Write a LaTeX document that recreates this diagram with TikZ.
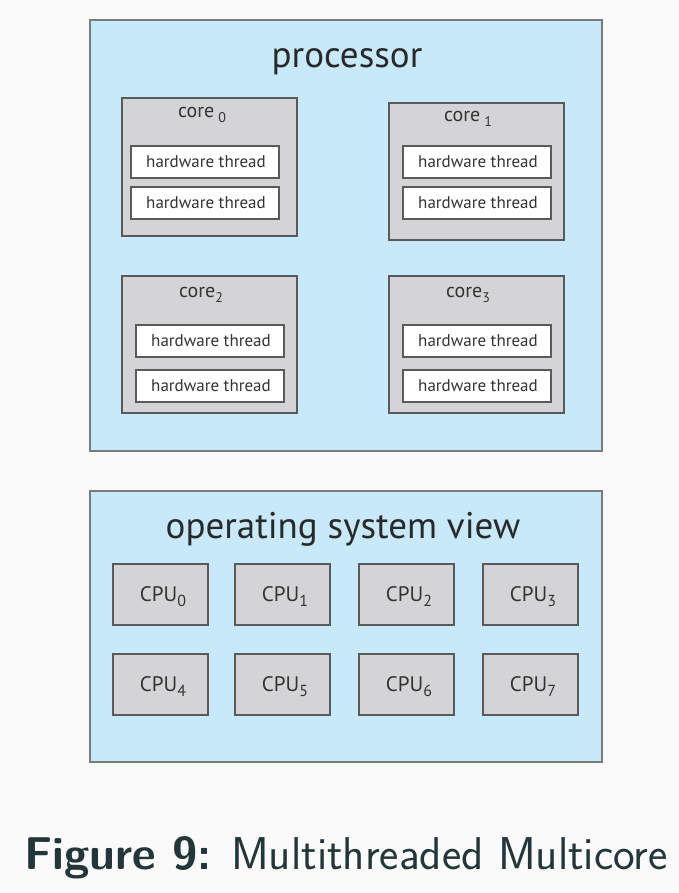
\documentclass[tikz,border=0pt]{standalone}
\usepackage{fontspec}
\newfontfamily\diafont{PT Sans}
\definecolor{bgc}{HTML}{FAFAFA}
\definecolor{boxblue}{HTML}{C7E9F9}
\definecolor{coregray}{HTML}{D4D4D6}
\definecolor{edgegray}{HTML}{5A5A5A}
\definecolor{captc}{HTML}{23373B}
\definecolor{txt}{HTML}{333333}
\newcommand\subd[3]{\raisebox{-#2}{\fontsize{#1}{#1}\selectfont #3}}
\begin{document}
\begin{tikzpicture}[x=1pt,y=-1pt,
  outerbox/.style={draw=edgegray!80, line width=1.2pt, fill=boxblue},
  corebox/.style={draw=edgegray, line width=1.6pt, fill=coregray},
  thrbox/.style={draw=edgegray, line width=1.5pt, fill=white},
  cpubox/.style={draw=edgegray, line width=1.6pt, fill=coregray},
  lbl/.style={font=\diafont\fontsize{17}{19}\selectfont, text=txt, inner sep=0pt},
  corelbl/.style={font=\diafont\fontsize{20}{22}\selectfont, text=txt, inner sep=0pt, anchor=base},
  cpulbl/.style={font=\diafont\fontsize{21}{23}\selectfont, text=txt, inner sep=0pt, anchor=base},
  ttl/.style={font=\diafont\fontsize{37}{40}\selectfont, text=txt!80!black, inner sep=0pt, anchor=base}]
\fill[bgc] (0,0) rectangle (679,893);
\useasboundingbox (0,0) rectangle (679,893);
% processor
\draw[outerbox] (90,20) rectangle (602,451);
\node[ttl] (proc) at (347,68) {processor};
% cores
\foreach \n/\x/\y/\w/\h in {0/122/98/175/138, 1/389/103/175/137, 2/122/276/175/137, 3/389/276/175/137}{
  \draw[corebox] (\x,\y) rectangle ++(\w,\h);
}
\node[corelbl] (c0) at (202,118) {core\hspace{4pt}\subd{14pt}{5pt}{0}};
\node[corelbl] (c1) at (468,122) {core\hspace{4pt}\subd{14pt}{5pt}{1}};
\node[corelbl] (c2) at (201,297) {core\subd{14pt}{5pt}{2}};
\node[corelbl] (c3) at (468,297) {core\subd{14pt}{5pt}{3}};
% threads
\foreach \x/\y in {131/146, 131/187, 403/146, 403/187, 136/325, 136/370, 403/325, 403/370}{
  \draw[thrbox] (\x,\y) rectangle ++(148,32);
  \node[lbl] at (\x+75,\y+16) {hardware thread};
}
% OS view
\draw[outerbox] (90,491) rectangle (602,762);
\node[ttl] (os) at (343,538) {operating system view};
\foreach \i/\x/\y in {0/113/564, 1/235/564, 2/359/564, 3/483/564, 4/113/654, 5/235/654, 6/359/654, 7/483/654}{
  \draw[cpubox] (\x,\y) rectangle ++(95,61);
  \node[cpulbl] (cpu\i) at (\x+50,\y+37) {CPU\subd{16pt}{5pt}{\i}};
}
% caption
\node[font=\sffamily\fontsize{46}{52}\selectfont, text=captc, inner sep=0pt] (cap) at (346,858) {\textbf{Figure 9:} Multithreaded Multicore};
\end{tikzpicture}
\end{document}
